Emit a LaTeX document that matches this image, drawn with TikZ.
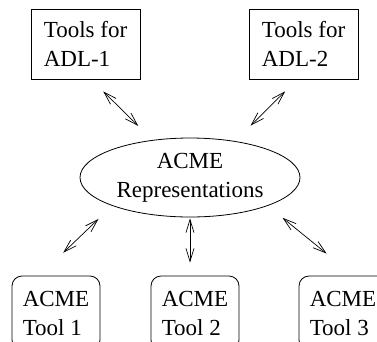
\documentclass[tikz,border=0pt]{standalone}
\usepackage{fontspec}
\setmainfont{Liberation Serif}
\usetikzlibrary{arrows.meta,positioning,shapes.geometric,calc}

\begin{document}
\begin{tikzpicture}[x=1pt,y=-1pt,
    adlbox/.style={draw,line width=0.8pt,minimum width=109pt,minimum height=70pt,align=left,font=\fontsize{23}{29}\selectfont},
    toolbox/.style={draw,line width=0.8pt,rounded corners=10pt,minimum width=88pt,minimum height=74pt,align=left,font=\fontsize{23}{29}\selectfont},
    link/.style={{Straight Barb[length=13pt,width=8pt]}-{Straight Barb[length=13pt,width=8pt]},line width=0.7pt}]
    \useasboundingbox (0,0) rectangle (377,341);
    \clip (0,0) rectangle (377,341);
    \node[adlbox] (adl1) at (85.5,44) {Tools for\\ADL-1};
    \node[adlbox] (adl2) at (303.5,44) {Tools for\\ADL-2};
    \node[draw,ellipse,line width=0.8pt,inner sep=0pt,minimum width=220pt,minimum height=79pt,align=center,font=\fontsize{23}{29}\selectfont] (acme) at (190,177.5) {ACME\\Representations};
    \node[toolbox] (tool1) at (56,313) {ACME\\Tool 1};
    \node[toolbox] (tool2) at (195,313) {ACME\\Tool 2};
    \node[toolbox] (tool3) at (343,313) {ACME\\Tool 3};
    % connectors
    \draw[link,shorten <=17pt,shorten >=20pt] (adl1.-81) -- (acme.135.4);
    \draw[link,shorten <=17pt,shorten >=22pt] (adl2.-100.5) -- (acme.39);
    \draw[link,shorten <=19pt,shorten >=33pt] (acme.-160.3) -- (tool1.114.3);
    \draw[link,shorten <=1pt,shorten >=13pt] (acme.south) -- (acme.south |- tool2.north);
    \draw[link,shorten <=19pt,shorten >=35pt] (acme.-20.6) -- (tool3.74.2);
\end{tikzpicture}
\end{document}
